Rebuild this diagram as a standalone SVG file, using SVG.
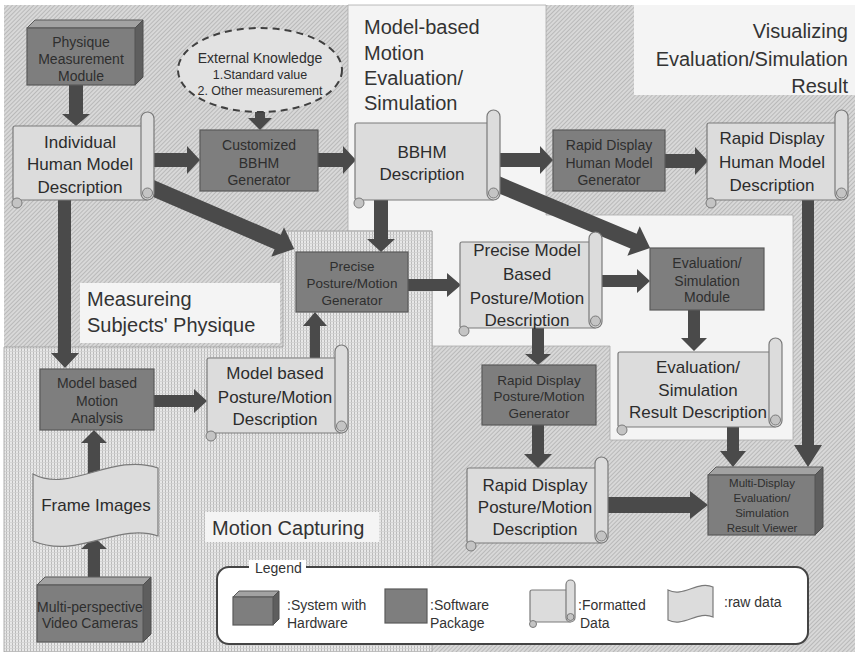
<svg xmlns="http://www.w3.org/2000/svg" width="855" height="652" viewBox="0 0 855 652">
  <defs>
    <pattern id="hatch" width="3" height="3" patternUnits="userSpaceOnUse" patternTransform="rotate(45)">
      <rect width="3" height="3" fill="#d8d8d8"/>
      <rect width="1" height="3" fill="#b9b9b9"/>
    </pattern>
    <pattern id="grid" width="3" height="3" patternUnits="userSpaceOnUse">
      <rect width="3" height="3" fill="#e8e8e8"/>
      <rect width="1" height="3" fill="#bababa"/>
      <rect width="3" height="0.8" fill="#d2d2d2"/>
    </pattern>
  </defs>
  <style>
    text { font-family: "Liberation Sans", Arial, sans-serif; fill: #2c2c2c; }
    .box { fill: #7e7e7e; stroke: #5a5a5a; stroke-width: 1.2; }
    .top { fill: #a2a2a2; stroke: #5a5a5a; stroke-width: 1; }
    .side { fill: #5e5e5e; stroke: #4e4e4e; stroke-width: 1; }
    .scroll { fill: #dcdcdc; stroke: #7a7a7a; stroke-width: 1.2; }
    .curl { fill: #c4c4c4; stroke: #7a7a7a; stroke-width: 1; }
    .arrow { fill: #4a4a4a; }
    .bt { font-size: 14px; text-anchor: middle; fill: #2e2e2e; }
    .st { font-size: 17px; text-anchor: middle; }
    .title { font-size: 20px; fill: #333; }
    .lab { fill: #f4f4f4; }
    .lg { font-size: 14px; fill: #333; }
  </style>

  <!-- background areas -->
  <g id="regions">
    <rect width="855" height="652" fill="#ffffff"/>
    <rect x="4" y="5" width="851" height="647" fill="url(#hatch)"/>
    <polygon points="348,5 546,5 546,215 793,215 793,440 610,440 610,346 432,346 432,231 348,231" fill="#f4f4f4" stroke="#ababab" stroke-width="0.8"/>
    <polygon points="4,347 283,347 283,231 432,231 432,652 4,652" fill="url(#grid)" stroke="#9c9c9c" stroke-width="0.8"/>
    <rect class="lab" x="80" y="283" width="200" height="60"/>
    <rect class="lab" x="634" y="5" width="221" height="90"/>
    <rect class="lab" x="205" y="512" width="174" height="30"/>
  </g>

  <g id="region-labels">
    <text class="title" x="364" y="34">Model-based</text>
    <text class="title" x="364" y="60">Motion</text>
    <text class="title" x="364" y="85">Evaluation/</text>
    <text class="title" x="364" y="110">Simulation</text>
    <text class="title" x="848" y="38" text-anchor="end">Visualizing</text>
    <text class="title" x="848" y="66" text-anchor="end">Evaluation/Simulation</text>
    <text class="title" x="848" y="93" text-anchor="end">Result</text>
    <text class="title" x="87" y="306">Measureing</text>
    <text class="title" x="87" y="332">Subjects' Physique</text>
    <text class="title" x="212" y="535">Motion Capturing</text>
  </g>

  <!-- block arrows -->
  <g id="connectors" class="arrow">
    <polygon points="69,85 83,85 83,114 90,114 76,126 62,114 69,114"/>
    <polygon points="255,112 265,112 265,118 272,118 260,130 248,118 255,118"/>
    <polygon points="152,153 187,153 187,146 200,160 187,174 187,167 152,167"/>
    <polygon points="318,153 343,153 343,146 356,160 343,174 343,167 318,167"/>
    <polygon points="497,153 540,153 540,146 553,160 540,174 540,167 497,167"/>
    <polygon points="665,154 695,154 695,147 708,161 695,175 695,168 665,168"/>
    <polygon points="58,200 71,200 71,353 79,353 65,368 51,353 58,353"/>
    <polygon transform="translate(150,187) rotate(23.3)" points="0,-8 139,-8 139,-16 157,0 139,16 139,8 0,8"/>
    <polygon points="374,200 388,200 388,239 395,239 381,252 367,239 374,239"/>
    <polygon transform="translate(497,184) rotate(22.7)" points="0,-8 148,-8 148,-16 166,0 148,16 148,8 0,8"/>
    <polygon points="408,279 447,279 447,273 461,285 447,297 447,291 408,291"/>
    <polygon points="600,275 637,275 637,269 650,281 637,293 637,287 600,287"/>
    <polygon points="688,310 700,310 700,338 707,338 694,351 681,338 688,338"/>
    <polygon points="532,328 544,328 544,354 551,354 538,365 525,354 532,354"/>
    <polygon points="532,425 544,425 544,454 552,454 538,468 524,454 532,454"/>
    <polygon points="606,497 690,497 690,491 708,505 690,519 690,513 606,513"/>
    <polygon points="727,427 739,427 739,451 746,451 733,467 720,451 727,451"/>
    <polygon points="802,200 814,200 814,445 822,445 808,467 794,445 802,445"/>
    <polygon points="154,395 194,395 194,389 207,401 194,413 194,407 154,407"/>
    <polygon points="310,358 320,358 320,326 327,326 315,312 303,326 310,326"/>
    <polygon points="88,474 100,474 100,443 107,443 94,430 81,443 88,443"/>
    <polygon points="88,578 100,578 100,549 107,549 94,537 81,549 88,549"/>
  </g>

  <g id="physique-measurement-module">
    <polygon class="top" points="27,28 35,20 143,20 135,28"/>
    <polygon class="side" points="135,28 143,20 143,77 135,85"/>
    <rect class="box" x="27" y="28" width="108" height="57"/>
    <text class="bt" x="81" y="47">Physique</text>
    <text class="bt" x="81" y="64">Measurement</text>
    <text class="bt" x="81" y="81">Module</text>
  </g>

  <g id="external-knowledge">
    <ellipse cx="260" cy="70" rx="82" ry="42" fill="#e2e2e2" stroke="#404040" stroke-width="2" stroke-dasharray="7 5"/>
    <text class="bt" x="260" y="63">External Knowledge</text>
    <text class="bt" x="260" y="79" style="font-size:12.5px">1.Standard value</text>
    <text class="bt" x="260" y="95" style="font-size:12.5px">2. Other measurement</text>
  </g>

  <g id="individual-human-model-description">
    <rect class="scroll" x="13" y="126" width="135" height="74" rx="2"/>
    <rect class="scroll" x="141" y="112" width="13" height="88" rx="6.5"/>
    <circle class="curl" cx="147.5" cy="193" r="5"/>
    <circle class="curl" cx="17" cy="203" r="5"/>
    <text class="st" x="80" y="148">Individual</text>
    <text class="st" x="80" y="170">Human Model</text>
    <text class="st" x="80" y="193">Description</text>
  </g>

  <g id="customized-bbhm-generator">
    <rect class="box" x="200" y="130" width="118" height="61"/>
    <text class="bt" x="259" y="150">Customized</text>
    <text class="bt" x="259" y="168">BBHM</text>
    <text class="bt" x="259" y="185">Generator</text>
  </g>

  <g id="bbhm-description">
    <rect class="scroll" x="355" y="123" width="139" height="77" rx="2"/>
    <rect class="scroll" x="487" y="110" width="13" height="90" rx="6.5"/>
    <circle class="curl" cx="493.5" cy="193" r="5"/>
    <circle class="curl" cx="359" cy="203" r="5"/>
    <text class="st" x="422" y="158">BBHM</text>
    <text class="st" x="422" y="180">Description</text>
  </g>

  <g id="rapid-display-human-model-generator">
    <rect class="box" x="553" y="130" width="112" height="61"/>
    <text class="bt" x="609" y="150">Rapid Display</text>
    <text class="bt" x="609" y="168">Human Model</text>
    <text class="bt" x="609" y="185">Generator</text>
  </g>

  <g id="rapid-display-human-model-description">
    <rect class="scroll" x="707" y="123" width="135" height="77" rx="2"/>
    <rect class="scroll" x="835" y="110" width="13" height="90" rx="6.5"/>
    <circle class="curl" cx="841.5" cy="193" r="5"/>
    <circle class="curl" cx="711" cy="203" r="5"/>
    <text class="st" x="772" y="144">Rapid Display</text>
    <text class="st" x="772" y="168">Human Model</text>
    <text class="st" x="772" y="191">Description</text>
  </g>

  <g id="precise-posture-motion-generator">
    <rect class="box" x="296" y="252" width="112" height="60"/>
    <text class="bt" x="352" y="271" style="font-size:13.5px">Precise</text>
    <text class="bt" x="352" y="288" style="font-size:13.5px">Posture/Motion</text>
    <text class="bt" x="352" y="305" style="font-size:13.5px">Generator</text>
  </g>

  <g id="precise-model-based-description">
    <rect class="scroll" x="460" y="242" width="136" height="86" rx="2"/>
    <rect class="scroll" x="589" y="232" width="13" height="96" rx="6.5"/>
    <circle class="curl" cx="595.5" cy="321" r="5"/>
    <circle class="curl" cx="464" cy="331" r="5"/>
    <text class="st" x="527" y="256">Precise Model</text>
    <text class="st" x="527" y="280">Based</text>
    <text class="st" x="527" y="304">Posture/Motion</text>
    <text class="st" x="527" y="326">Description</text>
  </g>

  <g id="evaluation-simulation-module">
    <rect class="box" x="650" y="248" width="114" height="62"/>
    <text class="bt" x="707" y="268">Evaluation/</text>
    <text class="bt" x="707" y="286">Simulation</text>
    <text class="bt" x="707" y="302">Module</text>
  </g>

  <g id="evaluation-simulation-result-description">
    <rect class="scroll" x="618" y="352" width="158" height="75" rx="2"/>
    <rect class="scroll" x="769" y="338" width="13" height="89" rx="6.5"/>
    <circle class="curl" cx="775.5" cy="420" r="5"/>
    <circle class="curl" cx="622" cy="430" r="5"/>
    <text class="st" x="698" y="373">Evaluation/</text>
    <text class="st" x="698" y="396">Simulation</text>
    <text class="st" x="698" y="418">Result Description</text>
  </g>

  <g id="rapid-display-posture-motion-generator">
    <rect class="box" x="482" y="365" width="114" height="60"/>
    <text class="bt" x="539" y="385" style="font-size:13.5px">Rapid Display</text>
    <text class="bt" x="539" y="401" style="font-size:13.5px">Posture/Motion</text>
    <text class="bt" x="539" y="418" style="font-size:13.5px">Generator</text>
  </g>

  <g id="rapid-display-posture-motion-description">
    <rect class="scroll" x="467" y="468" width="135" height="75" rx="2"/>
    <rect class="scroll" x="595" y="457" width="13" height="86" rx="6.5"/>
    <circle class="curl" cx="601.5" cy="536" r="5"/>
    <circle class="curl" cx="471" cy="546" r="5"/>
    <text class="st" x="535" y="491">Rapid Display</text>
    <text class="st" x="535" y="513">Posture/Motion</text>
    <text class="st" x="535" y="535">Description</text>
  </g>

  <g id="multi-display-result-viewer">
    <polygon class="top" points="708,475 716,467 823,467 815,475"/>
    <polygon class="side" points="815,475 823,467 823,527 815,535"/>
    <rect class="box" x="708" y="475" width="107" height="60"/>
    <text class="bt" x="762" y="487" style="font-size:11.5px">Multi-Display</text>
    <text class="bt" x="762" y="502" style="font-size:11.5px">Evaluation/</text>
    <text class="bt" x="762" y="517" style="font-size:11.5px">Simulation</text>
    <text class="bt" x="762" y="532" style="font-size:11.5px">Result Viewer</text>
  </g>

  <g id="model-based-motion-analysis">
    <rect class="box" x="40" y="369" width="114" height="61"/>
    <text class="bt" x="97" y="388">Model based</text>
    <text class="bt" x="97" y="406">Motion</text>
    <text class="bt" x="97" y="423">Analysis</text>
  </g>

  <g id="model-based-posture-motion-description">
    <rect class="scroll" x="207" y="358" width="135" height="75" rx="2"/>
    <rect class="scroll" x="335" y="345" width="13" height="88" rx="6.5"/>
    <circle class="curl" cx="341.5" cy="426" r="5"/>
    <circle class="curl" cx="211" cy="436" r="5"/>
    <text class="st" x="275" y="379">Model based</text>
    <text class="st" x="275" y="403">Posture/Motion</text>
    <text class="st" x="275" y="425">Description</text>
  </g>

  <g id="frame-images">
    <path class="scroll" d="M33,474 C70,494 112,452 158,468 V536 C118,522 78,560 33,541 Z"/>
    <text class="st" x="96" y="511">Frame Images</text>
  </g>

  <g id="video-cameras">
    <polygon class="top" points="37,585 45,577 151,577 143,585"/>
    <polygon class="side" points="143,585 151,577 151,634 143,642"/>
    <rect class="box" x="37" y="585" width="106" height="57"/>
    <text class="bt" x="90" y="612">Multi-perspective</text>
    <text class="bt" x="90" y="628">Video Cameras</text>
  </g>

  <g id="legend">
    <rect x="217" y="567" width="591" height="77" rx="12" fill="#ffffff" stroke="#444" stroke-width="2"/>
    <rect x="249" y="560" width="57" height="12" fill="#ffffff"/>
    <text class="lg" x="255" y="573">Legend</text>
    <polygon class="top" points="233,597 239,591 279,591 273,597"/>
    <polygon class="side" points="273,597 279,591 279,619 273,625"/>
    <rect class="box" x="233" y="597" width="40" height="28"/>
    <text class="lg" x="287" y="610">:System with</text>
    <text class="lg" x="287" y="628">Hardware</text>
    <rect class="box" x="385" y="589" width="42" height="34"/>
    <text class="lg" x="430" y="610">:Software</text>
    <text class="lg" x="430" y="628">Package</text>
    <rect class="scroll" x="530" y="590" width="41" height="32" rx="2"/>
    <rect class="scroll" x="566" y="580" width="9" height="42" rx="4.5"/>
    <circle class="curl" cx="570.5" cy="617" r="3.5"/>
    <circle class="curl" cx="533" cy="624" r="3.5"/>
    <text class="lg" x="578" y="610">:Formatted</text>
    <text class="lg" x="580" y="628">Data</text>
    <path class="scroll" d="M668,590 C683,598 698,580 713,587 V617 C698,610 683,628 668,620 Z"/>
    <text class="lg" x="724" y="607">:raw data</text>
  </g>
</svg>
